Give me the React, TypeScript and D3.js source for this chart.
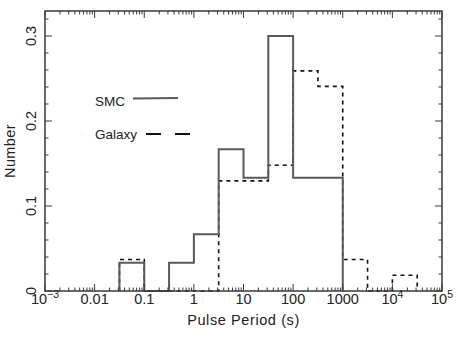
import React from "react";
import * as d3 from "d3";

// Bin lower edges (log10 of pulse period), each bin is half a decade wide
const smcBinLo = [-1.5, -1, -0.5, 0, 0.5, 1, 1.5, 2, 2.5];
const smcValues = [0.0333, 0, 0.0333, 0.0667, 0.1667, 0.1333, 0.3, 0.1333, 0.1333];
const galaxyBinLo = [-1.5, -1, -0.5, 0, 0.5, 1, 1.5, 2, 2.5, 3, 3.5, 4];
const galaxyValues = [0.037, 0, 0, 0, 0.1296, 0.1296, 0.148, 0.259, 0.2407, 0.037, 0, 0.0185];
const binWidth = 0.5;

const xTickExps = [-3, -2, -1, 0, 1, 2, 3, 4, 5];
const xTickLabels: [string, string][] = [
  ["10", "−3"], ["0.01", ""], ["0.1", ""], ["1", ""], ["10", ""], ["100", ""], ["1000", ""], ["10", "4"], ["10", "5"],
];
const yTicks = [0, 0.1, 0.2, 0.3];
const yTickLabels = ["0", "0.1", "0.2", "0.3"];

const W = 458, H = 346;
const L = 45, R = 442, T = 11, B = 291;
const FONT = "'Liberation Sans', Arial, sans-serif";

export default function App() {
  const x = d3.scaleLog().domain([1e-3, 1e5]).range([L, R]);
  const y = d3.scaleLinear().domain([0, 0.3294]).range([B, T]);

  const stepPath = (lo: number[], vals: number[]) => {
    const p = d3.path();
    let prev = 0;
    lo.forEach((l, i) => {
      const x0 = x(Math.pow(10, l));
      const x1 = x(Math.pow(10, l + binWidth));
      if (i === 0) p.moveTo(x0, y(0));
      p.lineTo(x0, y(vals[i]));
      p.lineTo(x1, y(vals[i]));
      prev = vals[i];
    });
    const lastX = x(Math.pow(10, lo[lo.length - 1] + binWidth));
    p.lineTo(lastX, y(0));
    return p.toString();
  };

  // minor ticks x
  const xMinor: number[] = [];
  for (let e = -3; e < 5; e++) {
    for (let k = 2; k <= 9; k++) xMinor.push(k * Math.pow(10, e));
  }
  const yMinor: number[] = [];
  for (let v = 0; v <= 0.32 + 1e-9; v += 0.02) yMinor.push(v);

  const axisColor = "#3a3a3a";

  return (
    <svg width={W} height={H} style={{ position: "absolute", left: 0, top: 0, background: "#fff" }}>
      <rect x={0} y={0} width={W} height={H} fill="#fff" />
      {/* histograms */}
      <path d={stepPath(galaxyBinLo, galaxyValues)} fill="none" stroke="#111" strokeWidth={1.6} strokeDasharray="4,4" />
      <path d={stepPath(smcBinLo, smcValues)} fill="none" stroke="#5a5a5a" strokeWidth={2} />

      {/* frame */}
      <rect x={L} y={T} width={R - L} height={B - T} fill="none" stroke={axisColor} strokeWidth={1.5} />

      {/* x ticks */}
      {xTickExps.map((e) => {
        const xx = x(Math.pow(10, e));
        return (
          <g key={"xt" + e}>
            <line x1={xx} x2={xx} y1={B} y2={B - 7} stroke={axisColor} strokeWidth={1} />
            <line x1={xx} x2={xx} y1={T} y2={T + 7} stroke={axisColor} strokeWidth={1} />
          </g>
        );
      })}
      {xMinor.map((v, i) => {
        const xx = x(v);
        return (
          <g key={"xm" + i}>
            <line x1={xx} x2={xx} y1={B} y2={B - 3.5} stroke={axisColor} strokeWidth={1} />
            <line x1={xx} x2={xx} y1={T} y2={T + 3.5} stroke={axisColor} strokeWidth={1} />
          </g>
        );
      })}
      {/* y ticks */}
      {yMinor.map((v, i) => {
        const yy = y(v);
        const major = Math.abs(v * 10 - Math.round(v * 10)) < 1e-6;
        const len = major ? 7 : 3.5;
        return (
          <g key={"ym" + i}>
            <line x1={L} x2={L + len} y1={yy} y2={yy} stroke={axisColor} strokeWidth={1} />
            <line x1={R} x2={R - len} y1={yy} y2={yy} stroke={axisColor} strokeWidth={1} />
          </g>
        );
      })}

      {/* x tick labels */}
      {xTickExps.map((e, i) => {
        const [base, sup] = xTickLabels[i];
        const xx = x(Math.pow(10, e));
        return (
          <text key={"xl" + e} x={xx} y={304} textAnchor="middle" fontFamily={FONT} fontSize={14.5} fill="#222">
            {base}
            {sup ? (
              <tspan dy={-6} fontSize={10.5}>{sup}</tspan>
            ) : null}
          </text>
        );
      })}
      {/* y tick labels */}
      {yTicks.map((v, i) => (
        <text key={"yl" + i} transform={`translate(35.5,${y(v)}) rotate(-90)`} textAnchor="middle"
          fontFamily={FONT} fontSize={14.5} fill="#222">
          {yTickLabels[i]}
        </text>
      ))}

      {/* axis titles */}
      <text x={(L + R) / 2} y={325} textAnchor="middle" fontFamily={FONT} fontSize={14.5} letterSpacing={0.6} fill="#222">
        Pulse Period (s)
      </text>
      <text transform={`translate(15,${(T + B) / 2}) rotate(-90)`} textAnchor="middle" fontFamily={FONT} fontSize={14.5} letterSpacing={0.4} fill="#222">
        Number
      </text>

      {/* legend */}
      <text x={95} y={106} fontFamily={FONT} fontSize={13.5} fill="#222">SMC</text>
      <line x1={133} x2={178} y1={98.5} y2={98} stroke="#5a5a5a" strokeWidth={2} />
      <text x={95} y={139} fontFamily={FONT} fontSize={13.5} fill="#222">Galaxy</text>
      <line x1={146} x2={191} y1={134} y2={134} stroke="#111" strokeWidth={2} strokeDasharray="15,14" />
    </svg>
  );
}
